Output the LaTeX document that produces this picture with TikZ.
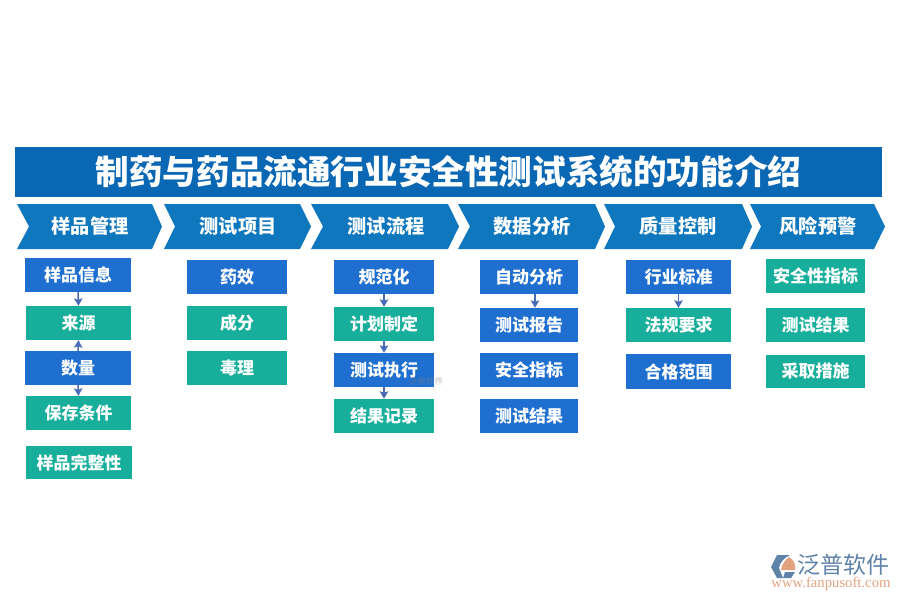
\documentclass[tikz,border=0pt]{standalone}
\usepackage{fontspec}
\setmainfont{Noto Sans CJK SC}
\newfontfamily\urlfont{Liberation Serif}
\usepackage{tikz-cd}
\usetikzlibrary{arrows.meta}

\definecolor{titleblue}{HTML}{0A67B3}
\definecolor{headblue}{HTML}{0F77BD}
\definecolor{boxblue}{HTML}{1F6FD1}
\definecolor{boxgreen}{HTML}{17AE9B}
\definecolor{arrowblue}{HTML}{4A6BB8}
\definecolor{logoblue}{HTML}{5F82A8}
\definecolor{logoorange}{HTML}{E3A27F}

\tikzset{
    chevron/.style={fill=headblue},
    headtext/.style={text=white, font=\fontsize{19.2}{19}\selectfont\bfseries, inner sep=0},
    bluebox/.style={fill=boxblue, text=white, font=\fontsize{17}{17}\selectfont\bfseries, inner sep=0, minimum height=34},
    greenbox/.style={bluebox, fill=boxgreen},
    flow/.style={draw=arrowblue, line width=1.5, -{Stealth[length=7.5,width=8.5,inset=1.5]}},
}

\begin{document}
\begin{tikzpicture}[x=1pt,y=-1pt]
    \useasboundingbox (0,0) rectangle (900,600);

    \node[fill=titleblue, text=white, inner sep=0, minimum width=867, minimum height=50, font=\fontsize{33.6}{34}\selectfont\bfseries] (title) at(448.5,172) {制药与药品流通行业安全性测试系统的功能介绍};

    \fill[chevron] (17,204) -- (152,204) -- (162,226.5) -- (152,249) -- (17,249) -- (29,226.5) -- cycle;
    \fill[chevron] (164,204) -- (300,204) -- (311,226.5) -- (300,249) -- (164,249) -- (175,226.5) -- cycle;
    \fill[chevron] (311,204) -- (448,204) -- (459,226.5) -- (448,249) -- (311,249) -- (323,226.5) -- cycle;
    \fill[chevron] (458,204) -- (595,204) -- (605,226.5) -- (595,249) -- (458,249) -- (470,226.5) -- cycle;
    \fill[chevron] (604,204) -- (742,204) -- (752,226.5) -- (742,249) -- (604,249) -- (615,226.5) -- cycle;
    \fill[chevron] (750,204) -- (874,204) -- (885,226.5) -- (874,249) -- (750,249) -- (761,226.5) -- cycle;

    \node[headtext] (sample) at(90,226) {样品管理};
    \node[headtext] (item) at(238,226) {测试项目};
    \node[headtext] (process) at(386,226) {测试流程};
    \node[headtext] (data) at(532,226) {数据分析};
    \node[headtext] (quality) at(678,226) {质量控制};
    \node[headtext] (risk) at(818,226) {风险预警};

    % sample column
    \node[bluebox, minimum width=106] (info) at(78,275) {样品信息};
    \node[greenbox, minimum width=105] (source) at(78.5,323) {来源};
    \node[bluebox, minimum width=106] (amount) at(78,368) {数量};
    \node[greenbox, minimum width=105] (storage) at(78.5,413) {保存条件};
    \node[greenbox, minimum width=106, minimum height=33] (whole) at(79,462.5) {样品完整性};

    % item column
    \node[bluebox, minimum width=100] (effect) at(237,277) {药效};
    \node[greenbox, minimum width=100] (part) at(237,323) {成分};
    \node[greenbox, minimum width=100] (toxic) at(237,368) {毒理};

    % process column
    \node[bluebox, minimum width=100] (norm) at(384,277) {规范化};
    \node[greenbox, minimum width=100] (plan) at(384,324) {计划制定};
    \node[bluebox, minimum width=100] (run) at(384,370) {测试执行};
    \node[greenbox, minimum width=100] (record) at(384,416) {结果记录};

    % data column
    \node[bluebox, minimum width=98] (auto) at(529,277) {自动分析};
    \node[bluebox, minimum width=98] (report) at(529,325) {测试报告};
    \node[bluebox, minimum width=98] (safe) at(529,370) {安全指标};
    \node[bluebox, minimum width=98] (result) at(529,416) {测试结果};

    % quality column
    \node[bluebox, minimum width=105] (standard) at(678.5,277) {行业标准};
    \node[greenbox, minimum width=105] (law) at(678.5,325) {法规要求};
    \node[bluebox, minimum width=105, minimum height=35] (range) at(678.5,371.5) {合格范围};

    % risk column
    \node[greenbox, minimum width=99] (index) at(815.5,276) {安全性指标};
    \node[greenbox, minimum width=99] (outcome) at(815.5,325) {测试结果};
    \node[greenbox, minimum width=99, minimum height=33] (action) at(815.5,371.5) {采取措施};

    \draw[flow] (info.south) -- (source.north);
    \draw[flow] (amount.north) -- (source.south);
    \draw[flow] (amount.south) -- (storage.north);
    \draw[flow] (norm.south) -- (plan.north);
    \draw[flow] (plan.south) -- (run.north);
    \draw[flow] (run.south) -- (record.north);
    \draw[flow] ([xshift=6]auto.south) -- ([xshift=6]report.north);
    \draw[flow] (standard.south) -- (law.north);

    % faint mark on the process column
    \node[text=gray, opacity=0.3, inner sep=0, font=\fontsize{8.5}{9}\selectfont\bfseries] (faint) at(426,381) {泛普软件};

    % logo
    \fill[logoblue] (771,567) -- (777,555) -- (790,555) .. controls (784,558) and (780,562) .. (779,568) -- (783,578) -- (777,578) -- cycle;
    \fill[logoorange] (789,557) .. controls (794,560) and (796,565) .. (795,570) -- (781,570) .. controls (782,564) and (785,560) .. (789,557) -- cycle;
    \fill[logoblue] (785,572) -- (795,572) -- (791,578) -- (783,578) -- cycle;
    \node[text=logoblue, inner sep=0, font=\fontsize{23}{23}\selectfont] (brand) at(843,565) {泛普软件};
    \node[text=logoorange, inner sep=0, font=\fontsize{14.7}{15}\urlfont] (url) at(831,584) {www.fanpusoft.com};
\end{tikzpicture}
\end{document}
